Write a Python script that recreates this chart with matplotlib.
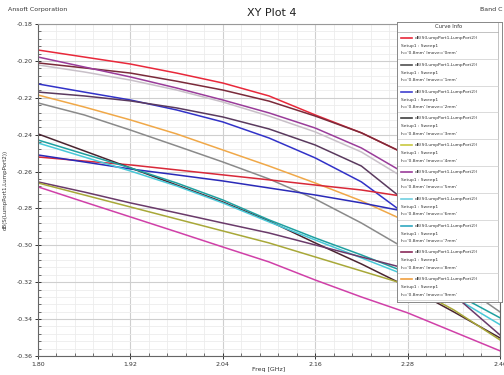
import numpy as np
import matplotlib.pyplot as plt
from matplotlib.ticker import MultipleLocator, AutoMinorLocator

# frequency sweep (GHz)
freq = [1.80, 1.86, 1.92, 1.98, 2.04, 2.10, 2.16, 2.22, 2.28, 2.34, 2.40]

# dB(S(LumpPort1,LumpPort2)) traces
red_top     = [-0.1941, -0.1979, -0.2017, -0.2066, -0.2120, -0.2190, -0.2293, -0.2390, -0.2510, -0.2645, -0.2800]
maroon_top  = [-0.2011, -0.2038, -0.2066, -0.2110, -0.2158, -0.2218, -0.2299, -0.2390, -0.2510, -0.2656, -0.2810]
purple_top  = [-0.1979, -0.2033, -0.2087, -0.2147, -0.2212, -0.2282, -0.2364, -0.2472, -0.2618, -0.2780, -0.2970]
silver      = [-0.2022, -0.2060, -0.2104, -0.2158, -0.2223, -0.2299, -0.2385, -0.2494, -0.2646, -0.2820, -0.3014]
blue_upper  = [-0.2125, -0.2169, -0.2212, -0.2266, -0.2331, -0.2418, -0.2526, -0.2656, -0.2840, -0.3050, -0.3296]
dark_upper  = [-0.2169, -0.2190, -0.2217, -0.2255, -0.2304, -0.2369, -0.2456, -0.2570, -0.2770, -0.2998, -0.3242]
orange      = [-0.2185, -0.2250, -0.2320, -0.2396, -0.2483, -0.2570, -0.2662, -0.2759, -0.2873, -0.3003, -0.3144]
gray        = [-0.2228, -0.2293, -0.2375, -0.2461, -0.2548, -0.2640, -0.2749, -0.2879, -0.3025, -0.3187, -0.3361]
red_flat    = [-0.2521, -0.2543, -0.2564, -0.2591, -0.2618, -0.2645, -0.2673, -0.2700, -0.2738, -0.2786, -0.2840]
blue_flat   = [-0.2510, -0.2548, -0.2586, -0.2618, -0.2651, -0.2689, -0.2727, -0.2770, -0.2819, -0.2873, -0.2938]
maroon_mid  = [-0.2396, -0.2488, -0.2580, -0.2673, -0.2765, -0.2868, -0.2987, -0.3101, -0.3225, -0.3361, -0.3502]
teal        = [-0.2429, -0.2505, -0.2580, -0.2662, -0.2754, -0.2862, -0.2960, -0.3052, -0.3150, -0.3258, -0.3393]
cyan        = [-0.2445, -0.2521, -0.2597, -0.2678, -0.2770, -0.2873, -0.2971, -0.3068, -0.3166, -0.3280, -0.3430]
dark_low    = [-0.2656, -0.2711, -0.2770, -0.2824, -0.2879, -0.2933, -0.2998, -0.3063, -0.3128, -0.3269, -0.3486]
olive       = [-0.2662, -0.2727, -0.2792, -0.2857, -0.2922, -0.2987, -0.3063, -0.3139, -0.3215, -0.3350, -0.3513]
magenta     = [-0.2683, -0.2765, -0.2846, -0.2927, -0.3009, -0.3090, -0.3188, -0.3280, -0.3366, -0.3469, -0.3572]

traces = [
    (red_top, '#e8283a'), (maroon_top, '#7a2a3a'), (purple_top, '#9a3c9a'),
    (silver, '#c8c0c8'), (blue_upper, '#3232c8'), (dark_upper, '#5a3a5e'),
    (orange, '#f0a848'), (gray, '#8a8a8a'), (red_flat, '#d82838'),
    (blue_flat, '#2a2ab8'), (maroon_mid, '#4a2430'), (teal, '#1fa0a0'),
    (cyan, '#48c8d8'), (dark_low, '#6a3a6a'), (olive, '#a8a838'),
    (magenta, '#d040a8'),
]

# legend entries
legend_colors = ['#e8283a', '#505050', '#4040d0', '#404040', '#c8c840',
                 '#9a3c9a', '#70d0e0', '#30a8c0', '#8a2a5a', '#f0a040']
legend_moves = ['0mm', '1mm', '2mm', '3mm', '4mm', '5mm', '6mm', '7mm', '8mm', '9mm']

fig = plt.figure(figsize=(5.04, 3.75), dpi=100)
ax = fig.add_axes([0.0754, 0.0507, 0.9166, 0.8853])

for ys, c in traces:
    ax.plot(freq, ys, color=c, lw=1.1)

ax.set_xlim(1.80, 2.40)
ax.set_ylim(-0.36, -0.18)
ax.set_xticks([1.80, 1.92, 2.04, 2.16, 2.28, 2.40])
ax.yaxis.set_major_locator(MultipleLocator(0.02))
ax.xaxis.set_minor_locator(AutoMinorLocator(5))
ax.yaxis.set_minor_locator(AutoMinorLocator(5))
ax.xaxis.set_major_formatter(plt.FuncFormatter(lambda v, p: f'{v:.2f}'))
ax.yaxis.set_major_formatter(plt.FuncFormatter(lambda v, p: f'{v:.2f}'))
ax.grid(which='major', color='#cfcfcf', lw=0.8)
ax.grid(which='minor', color='#ececec', lw=0.6)
ax.set_axisbelow(True)
ax.tick_params(which='major', direction='inout', length=5, width=0.7, labelsize=4.5, colors='#333333', pad=1.5)
ax.tick_params(which='minor', direction='in', length=2, width=0.6, colors='#555555')
ax.tick_params(axis='x', pad=2)
for s in ax.spines.values():
    s.set_color('#666666')
    s.set_linewidth(0.8)
ax.spines['top'].set_color('#999999')

ax.set_xlabel('Freq [GHz]', fontsize=4.5, labelpad=0, color='#333333')
ax.set_ylabel('dB(S(LumpPort1,LumpPort2))', fontsize=4, labelpad=6, color='#333333')

fig.text(0.54, 0.965, 'XY Plot 4', fontsize=8, ha='center', va='center', color='#222222')
fig.text(0.016, 0.975, 'Ansoft Corporation', fontsize=4.5, ha='left', va='center', color='#333333')
fig.text(0.952, 0.975, 'Band C', fontsize=4.5, ha='left', va='center', color='#333333')

# curve info box
lg = fig.add_axes([397 / 504, 1 - 302 / 375, 105 / 504, 280 / 375])
lg.set_xlim(0, 105)
lg.set_ylim(280, 0)
lg.set_xticks([])
lg.set_yticks([])
lg.set_facecolor('white')
for s in lg.spines.values():
    s.set_color('#888888')
    s.set_linewidth(0.7)
lg.text(52, 5, 'Curve Info', fontsize=3.8, ha='center', va='center', color='#333333')
lg.plot([0, 101], [10, 10], color='#aaaaaa', lw=0.5)
lg.plot([101, 101], [0, 280], color='#aaaaaa', lw=0.5)
row_h = 26.8
for i, (c, mv) in enumerate(zip(legend_colors, legend_moves)):
    y0 = 11 + i * row_h
    lg.plot([4, 15], [y0 + 5, y0 + 5], color=c, lw=1.2)
    lg.text(18, y0 + 5, 'dB(S(LumpPort1,LumpPort2))', fontsize=3.2, va='center', color='#333333')
    lg.text(4, y0 + 13, 'Setup1 : Sweep1', fontsize=3.2, va='center', color='#333333')
    lg.text(4, y0 + 20.5, "h='0.8mm' lmove='" + mv + "'", fontsize=3.2, va='center', color='#333333')
    lg.plot([0, 101], [y0 + row_h - 1, y0 + row_h - 1], color='#cccccc', lw=0.5)

fig.savefig('out.png', dpi=100, facecolor='white')
